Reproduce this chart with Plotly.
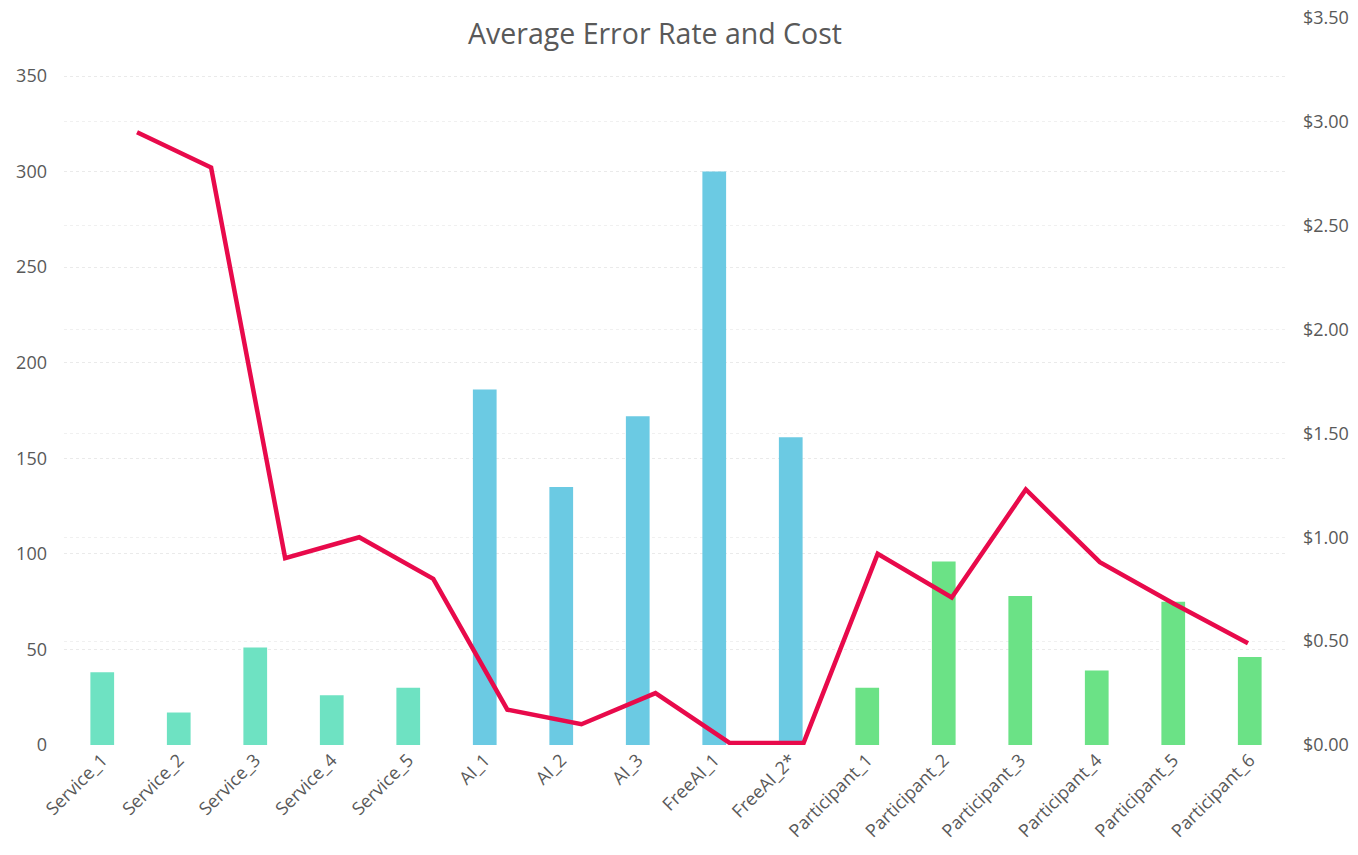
import plotly.graph_objects as go

categories = ["Service_1", "Service_2", "Service_3", "Service_4", "Service_5",
              "AI_1", "AI_2", "AI_3", "FreeAI_1", "FreeAI_2*",
              "Participant_1", "Participant_2", "Participant_3",
              "Participant_4", "Participant_5", "Participant_6"]
error_rate = [38, 17, 51, 26, 30, 186, 135, 172, 300, 161, 30, 96, 78, 39, 75, 46]
cost = [2.95, 2.78, 0.90, 1.00, 0.80, 0.17, 0.10, 0.25, 0.01, 0.01,
        0.92, 0.71, 1.23, 0.88, 0.68, 0.49]
groups = ["Service"] * 5 + ["AI"] * 5 + ["Participant"] * 6
group_colors = {"Service": "#6EE2C2", "AI": "#6BCAE3", "Participant": "#6BE286"}
left_ticks = [0, 50, 100, 150, 200, 250, 300, 350]
right_ticks = [0, 0.5, 1.0, 1.5, 2.0, 2.5, 3.0, 3.5]
right_labels = ["$%.2f" % v for v in right_ticks]

font_family = "Open Sans, Noto Sans, sans-serif"
grey = "#595959"

fig = go.Figure()
fig.add_trace(go.Bar(
    x=categories, y=error_rate,
    marker=dict(color=[group_colors[g] for g in groups], line=dict(width=0)),
    width=0.31, name="Average Error Rate", xaxis="x", yaxis="y",
))
fig.add_trace(go.Scatter(
    x=categories, y=cost, mode="lines",
    line=dict(color="#E80A4B", width=4.5),
    name="Cost", xaxis="x2", yaxis="y2",
))

fig.update_layout(
    width=1358, height=855,
    margin=dict(l=64, r=70, t=18, b=110, autoexpand=False),
    paper_bgcolor="white", plot_bgcolor="white",
    showlegend=False,
    font=dict(family=font_family, color=grey),
    xaxis=dict(
        type="category", range=[-0.5, 15.5], tickangle=-45,
        tickfont=dict(size=18, color=grey), showgrid=False, zeroline=False,
        showline=False, ticks="", automargin=False,
    ),
    xaxis2=dict(
        type="category", overlaying="x", anchor="y", range=[-0.986, 15.54],
        visible=False, showgrid=False, automargin=False,
    ),
    yaxis=dict(
        range=[0, 350 * 727 / 669], tickvals=left_ticks,
        tickfont=dict(size=18, color=grey), showgrid=True,
        gridcolor="#EAEAEA", griddash="dot", gridwidth=1, zeroline=False,
        showline=False, ticks="", ticklabelstandoff=16, automargin=False,
    ),
    yaxis2=dict(
        overlaying="y", side="right", anchor="x", range=[0, 3.5],
        tickvals=right_ticks, ticktext=right_labels,
        tickfont=dict(size=18, color=grey), showgrid=True,
        gridcolor="#F0F0F0", griddash="dot", gridwidth=1, zeroline=False,
        showline=False, ticks="", ticklabelstandoff=14, automargin=False,
        ticklabeloverflow="allow",
    ),
    annotations=[dict(
        text="Average Error Rate and Cost", xref="paper", yref="paper",
        x=(655 - 64) / (1288 - 64), y=(855 - 110 - 33) / (855 - 110 - 18),
        xanchor="center", yanchor="middle", showarrow=False,
        font=dict(size=28.5, color=grey, family=font_family),
    )],
)

fig.write_html("out.html", config={"displayModeBar": False},
               post_script="document.body.style.margin='0';")
